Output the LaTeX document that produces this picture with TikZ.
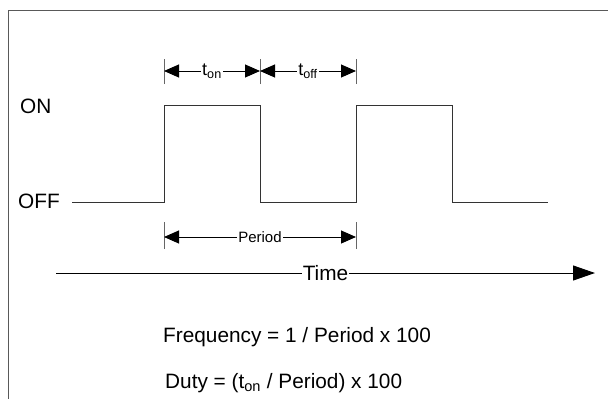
\documentclass[tikz,border=0pt]{standalone}
\usepackage{fontspec}
\setmainfont{Liberation Sans}
\usepackage{tikz}
\usetikzlibrary{arrows.meta}

\begin{document}
\begin{tikzpicture}[
  x=1pt, y=-1pt,
  lbl/.style={font=\fontsize{20.8}{25}\selectfont, inner sep=0pt},
  tlbl/.style={font=\fontsize{18}{22}\selectfont, inner sep=1pt, fill=white},
  plbl/.style={font=\fontsize{15}{18}\selectfont, inner sep=1pt, fill=white},
  sig/.style={line width=1pt, draw=black!80},
  tick/.style={line width=0.9pt, draw=black!60},
  dim/.style={{Triangle[length=15pt,width=13pt]}-{Triangle[length=15pt,width=13pt]}, line width=1pt},
  timearr/.style={-{Triangle[length=22pt,width=15pt]}, line width=1pt},
  frame/.style={line width=1.5pt, draw=black!65},
]
  \useasboundingbox (0,0) rectangle (608,399);

  % Frame (top and left edge only)
  \draw[frame] (608,10.5) -- (8.5,10.5) -- (8.5,399);

  % Levels
  \node[lbl, anchor=base west] (on) at (20,113) {ON};
  \node[lbl, anchor=base west] (off) at (18,208) {OFF};

  % Signal edges
  \coordinate (s0) at (72,202);
  \coordinate (r1) at (164,202);
  \coordinate (f1) at (260,105);
  \coordinate (r2) at (356,202);
  \coordinate (f2) at (452,105);
  \coordinate (s9) at (548,202);

  % Waveform
  \draw[sig] (s0) -- (r1) |- (f1) |- (r2) |- (f2) |- (s9);

  % t_on / t_off
  \coordinate (a1) at (164,71);
  \coordinate (a2) at (260,71);
  \coordinate (a3) at (356,71);
  \foreach \c in {a1,a2,a3}
    \draw[tick] ([yshift=-13pt]\c) -- ([yshift=12pt]\c);
  \draw[dim] (a1) -- node[tlbl] (ton) {t\textsubscript{on}} (a2);
  \draw[dim] (a2) -- node[tlbl] (toff) {t\textsubscript{off}} (a3);

  % Period
  \coordinate (p1) at (164,237);
  \coordinate (p2) at (356,237);
  \foreach \c in {p1,p2}
    \draw[tick] ([yshift=-12pt]\c) -- ([yshift=15pt]\c);
  \draw[dim] (p1) -- node[plbl] (period) {Period} (p2);

  % Time axis
  \coordinate (tstart) at (56,273);
  \coordinate (tend) at (595,273);
  \draw[timearr] (tstart) -- node[lbl, fill=white, inner sep=0.5pt] (time) {Time} (tend);

  % Formulas
  \node[lbl, anchor=base west] (freq) at (163,342) {Frequency = 1 / Period x 100};
  \node[lbl, anchor=base west] (duty) at (165,388) {Duty = (t\textsubscript{on} / Period) x 100};
\end{tikzpicture}
\end{document}
